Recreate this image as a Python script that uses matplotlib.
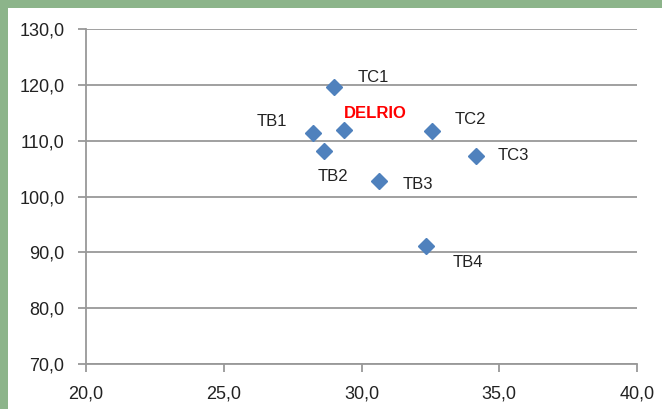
import matplotlib
matplotlib.use("Agg")
import matplotlib.pyplot as plt
import matplotlib.patches as patches
from matplotlib.ticker import FuncFormatter

# data
names = ["TC1", "TB1", "DELRIO", "TB2", "TC2", "TC3", "TB3", "TB4"]
x_vals = [29.0, 28.25, 29.35, 28.65, 32.55, 34.15, 30.65, 32.35]
y_vals = [119.6, 111.3, 111.9, 108.2, 111.8, 107.3, 102.8, 91.2]
# label offsets in pixels (dx, dy) from each point
offsets = [(39, 10), (-41, 12), (32, 17), (9, -26), (39, 11), (37, 0), (38, -4), (42, -17)]

plt.rcParams['font.family'] = ['Liberation Sans', 'DejaVu Sans']

fig = plt.figure(figsize=(6.62, 4.09), dpi=100)
fig.patch.set_facecolor('white')
green = '#8cb48a'
fig.add_artist(patches.Rectangle((0, 0), 8 / 662, 1, transform=fig.transFigure,
                                 facecolor=green, edgecolor='none'))
fig.add_artist(patches.Rectangle((0, 1 - 8 / 409), 1, 8 / 409, transform=fig.transFigure,
                                 facecolor=green, edgecolor='none'))

ax = fig.add_axes([86 / 662, 45 / 409, 551 / 662, 335 / 409])
ax.set_xlim(20, 40)
ax.set_ylim(70, 130)
ax.set_xticks([20, 25, 30, 35, 40])
ax.set_yticks([70, 80, 90, 100, 110, 120, 130])
fmt = FuncFormatter(lambda v, p: f"{v:.1f}".replace('.', ','))
ax.xaxis.set_major_formatter(fmt)
ax.yaxis.set_major_formatter(fmt)

grid_c = '#999999'
ax.grid(axis='y', color=grid_c, linewidth=1.3)
ax.set_axisbelow(True)
for s in ['top', 'right']:
    ax.spines[s].set_visible(False)
for s in ['left', 'bottom']:
    ax.spines[s].set_color(grid_c)
    ax.spines[s].set_linewidth(1.3)
ax.tick_params(axis='both', direction='out', length=5.5, width=1.3, color=grid_c,
               labelsize=13, labelcolor='#222222')
ax.tick_params(axis='y', pad=10)
ax.tick_params(axis='x', pad=10)

ax.plot(x_vals, y_vals, linestyle='none', marker='D', markersize=8,
        color='#4f81bd', markeredgecolor='#4f81bd', clip_on=False)

for n, xv, yv, (dx, dy) in zip(names, x_vals, y_vals, offsets):
    red = n == "DELRIO"
    ax.annotate(n, (xv, yv), xytext=(dx * 0.72, dy * 0.72), textcoords='offset points',
                ha='center', va='center', fontsize=12,
                color='#ff0000' if red else '#222222',
                fontweight='bold' if red else 'normal')

fig.savefig('out.png', dpi=100)
